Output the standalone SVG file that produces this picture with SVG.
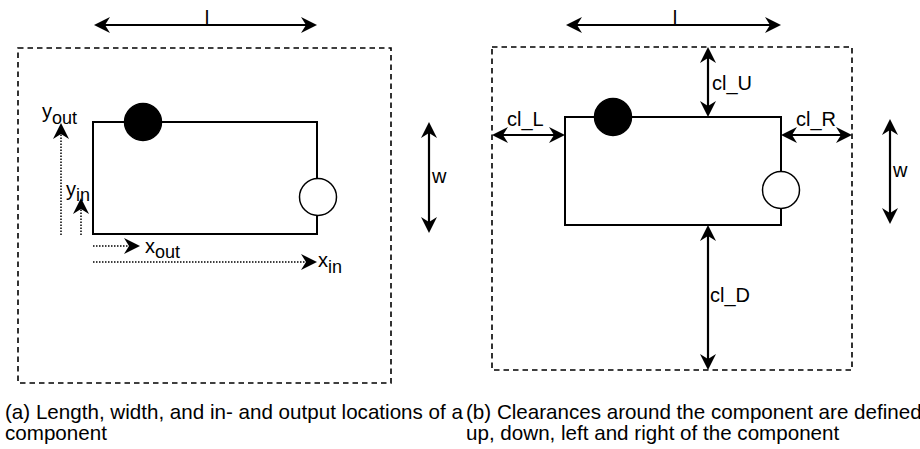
<svg xmlns="http://www.w3.org/2000/svg" width="920" height="449" viewBox="0 0 920 449">
<defs>
<marker id="ah" markerUnits="userSpaceOnUse" orient="auto-start-reverse" markerWidth="20" markerHeight="20" refX="0" refY="0" viewBox="-8 -10 20 20" overflow="visible">
<path d="M10,0 L-6,-8 L-1,0 L-6,8 Z" fill="#000"/>
</marker>
</defs>
<style>
text{font-family:"Liberation Sans",Arial,sans-serif;fill:#000}
.lbl{font-size:20px}
.sub{font-size:18px}
.cap{font-size:20.6px}
.box{fill:#fff;stroke:#000;stroke-width:2}
.frame{fill:none;stroke:#000;stroke-width:1.6;stroke-dasharray:5.5 4}
.arr{fill:none;stroke:#000;stroke-width:2;marker-end:url(#ah)}
.arr2{fill:none;stroke:#000;stroke-width:2.2;marker-start:url(#ah);marker-end:url(#ah)}
.dot{fill:none;stroke:#000;stroke-width:1.5;stroke-dasharray:1.5 1.5;marker-end:url(#ah)}
.pin{fill:#000;stroke:#000;stroke-width:1.5}
.pout{fill:#fff;stroke:#000;stroke-width:1.5}
</style>
<rect width="920" height="449" fill="#fff"/>
<g id="frame-a"><rect class="frame" x="18" y="48" width="373" height="335"/></g>
<g id="component-a">
<rect class="box" x="93" y="122" width="224" height="112"/>
<circle class="pin" cx="143" cy="122" r="18.5"/>
<circle class="pout" cx="318" cy="197" r="18.5"/>
</g>
<g id="frame-b"><rect class="frame" x="492" y="47" width="360" height="323"/></g>
<g id="component-b">
<rect class="box" x="565" y="117" width="216" height="108"/>
<circle class="pin" cx="613" cy="117" r="18.5"/>
<circle class="pout" cx="781" cy="190" r="18.5"/>
</g>
<g id="connectors">
<line class="arr2" x1="104" y1="25" x2="307" y2="25"/>
<line class="arr2" x1="429" y1="132" x2="429" y2="223"/>
<line class="dot" x1="61" y1="235" x2="61" y2="133"/>
<line class="dot" x1="81" y1="235" x2="81" y2="208"/>
<line class="dot" x1="93" y1="246" x2="130" y2="246"/>
<line class="dot" x1="93" y1="262" x2="307" y2="262"/>
<line class="arr2" x1="576" y1="25" x2="771" y2="25"/>
<line class="arr2" x1="708" y1="57" x2="708" y2="107"/>
<line class="arr2" x1="502" y1="135" x2="555" y2="135"/>
<line class="arr2" x1="791" y1="135" x2="842" y2="135"/>
<line class="arr2" x1="708" y1="235" x2="708" y2="360"/>
<line class="arr2" x1="890" y1="129" x2="890" y2="214"/>
</g>
<g id="labels">
<text class="lbl" x="207" y="25" text-anchor="middle">l</text>
<text class="lbl" x="432" y="183">w</text>
<text class="lbl" x="42" y="118">y<tspan class="sub" dy="6">out</tspan></text>
<text class="lbl" x="66" y="196">y<tspan class="sub" dy="5">in</tspan></text>
<text class="lbl" x="145" y="253">x<tspan class="sub" dy="5">out</tspan></text>
<text class="lbl" x="318" y="267">x<tspan class="sub" dy="6">in</tspan></text>
<text class="lbl" x="675" y="25" text-anchor="middle">l</text>
<text class="lbl" x="712" y="90">cl_U</text>
<text class="lbl" x="507" y="126">cl_L</text>
<text class="lbl" x="796" y="126">cl_R</text>
<text class="lbl" x="710" y="302">cl_D</text>
<text class="lbl" x="893" y="177">w</text>
</g>
<g id="captions">
<text class="cap" x="5" y="419">(a) Length, width, and in- and output locations of a</text>
<text class="cap" x="5" y="440">component</text>
<text class="cap" x="466" y="419">(b) Clearances around the component are defined</text>
<text class="cap" x="466" y="440">up, down, left and right of the component</text>
</g>
</svg>
